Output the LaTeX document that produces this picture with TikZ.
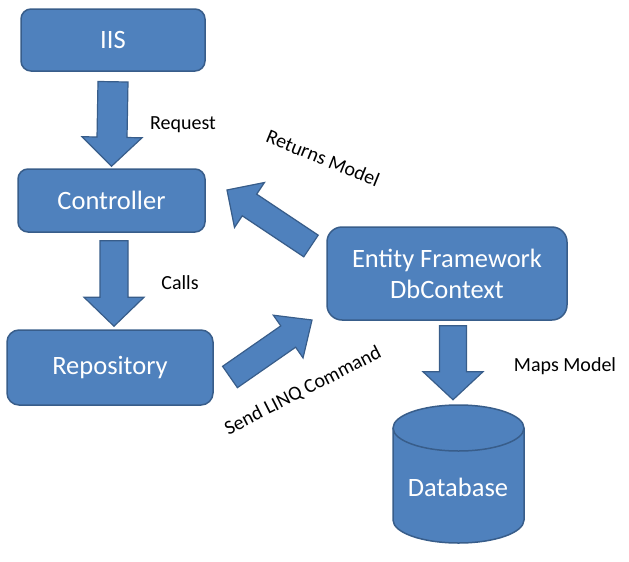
\documentclass[tikz,border=0pt]{standalone}
\usepackage{fontspec}
\setmainfont{Carlito}
\usetikzlibrary{calc}
\usetikzlibrary{positioning}
\definecolor{ms-blue}{HTML}{4F81BD}
\definecolor{ms-edge}{HTML}{385D8A}
\tikzset{
  layer-box/.style n args={3}{
    rectangle,
    draw=ms-edge,
    fill=ms-blue,
    line width=1.5pt,
    text=white,
    align=center,
    font=\fontsize{26.5}{31}\selectfont,
    minimum width=#1,
    minimum height=#2,
    rounded corners=#3},
  block-arrow/.style={draw=ms-edge, fill=ms-blue, line width=1.2pt, line join=miter},
  flow-label/.style={font=\fontsize{20}{24}\selectfont, inner sep=0pt},
}

\begin{document}
\begin{tikzpicture}[x=1pt, y=-1pt]
  \useasboundingbox (0,0) rectangle (629,562);

  % layers
  \node[layer-box={184pt}{62pt}{10pt}] (iis) at (113,40) {IIS};
  \node[layer-box={187pt}{63pt}{10pt}] (ctrl) at (111.5,200.5) {Controller};
  \node[layer-box={206pt}{75pt}{12pt}] (repo) at (110,367.5) {Repository};
  \node[layer-box={240pt}{93pt}{15pt}] (ef) at (447,273.5) {Entity Framework\\DbContext};

  % database cylinder
  \node[minimum width=131pt, minimum height=138pt] (db) at (458.5,474) {};
  \draw[block-arrow, line width=1.5pt] (393,428) -- (393,520)
    arc[start angle=180, end angle=360, x radius=65.5pt, y radius=23pt] -- (524,428)
    arc[start angle=0, end angle=180, x radius=65.5pt, y radius=23pt] -- cycle;
  \draw[draw=ms-edge, line width=1.5pt] (393,428)
    arc[start angle=180, end angle=360, x radius=65.5pt, y radius=23pt];
  \node[font=\fontsize{26.5}{31}\selectfont, text=white] (db-text) at (458,487) {Database};

  % arrow ends
  \coordinate (iis-out) at ($(iis.south)+(0,10)$);
  \coordinate (ctrl-in) at ($(ctrl.north)+(0,-2)$);
  \coordinate (ctrl-out) at ($(ctrl.south)+(2.5,8)$);
  \coordinate (repo-in) at ($(repo.north)+(4,-3)$);
  \coordinate (ef-out) at ($(ef.south)+(6,5)$);
  \coordinate (db-in) at ($(ef.south)+(6,79)$);
  \coordinate (ef-ret) at (311,246);
  \coordinate (ctrl-ret) at (227,190);
  \coordinate (repo-send) at (230,377);
  \coordinate (ef-send) at (312,320);

  \foreach \from/\to/\sw/\hw/\hl in {iis-out/ctrl-in/15pt/30pt/29pt,
      ctrl-out/repo-in/14pt/30pt/29pt, ef-out/db-in/13.5pt/30pt/28pt,
      ef-ret/ctrl-ret/13pt/27pt/27pt, repo-send/ef-send/13pt/26pt/29pt} {
    % head base
    \coordinate (hb) at ($(\to)!\hl!(\from)$);
    \draw[block-arrow] ($(\from)!\sw!90:(\to)$) -- ($(hb)!\sw!90:(\to)$)
      -- ($(hb)!\hw!90:(\to)$) -- (\to) -- ($(hb)!\hw!-90:(\to)$)
      -- ($(hb)!\sw!-90:(\to)$) -- ($(\from)!\sw!-90:(\to)$) -- cycle;
  }

  % labels
  \node[flow-label] (request) at (183,125) {Request};
  \node[flow-label] (calls) at (180,283) {Calls};
  \node[flow-label] (maps) at (565,366) {Maps Model};
  \node[flow-label, rotate=-22] (returns) at (323,158) {Returns Model};
  \node[flow-label, rotate=27] (send) at (303,391) {Send LINQ Command};
\end{tikzpicture}
\end{document}
